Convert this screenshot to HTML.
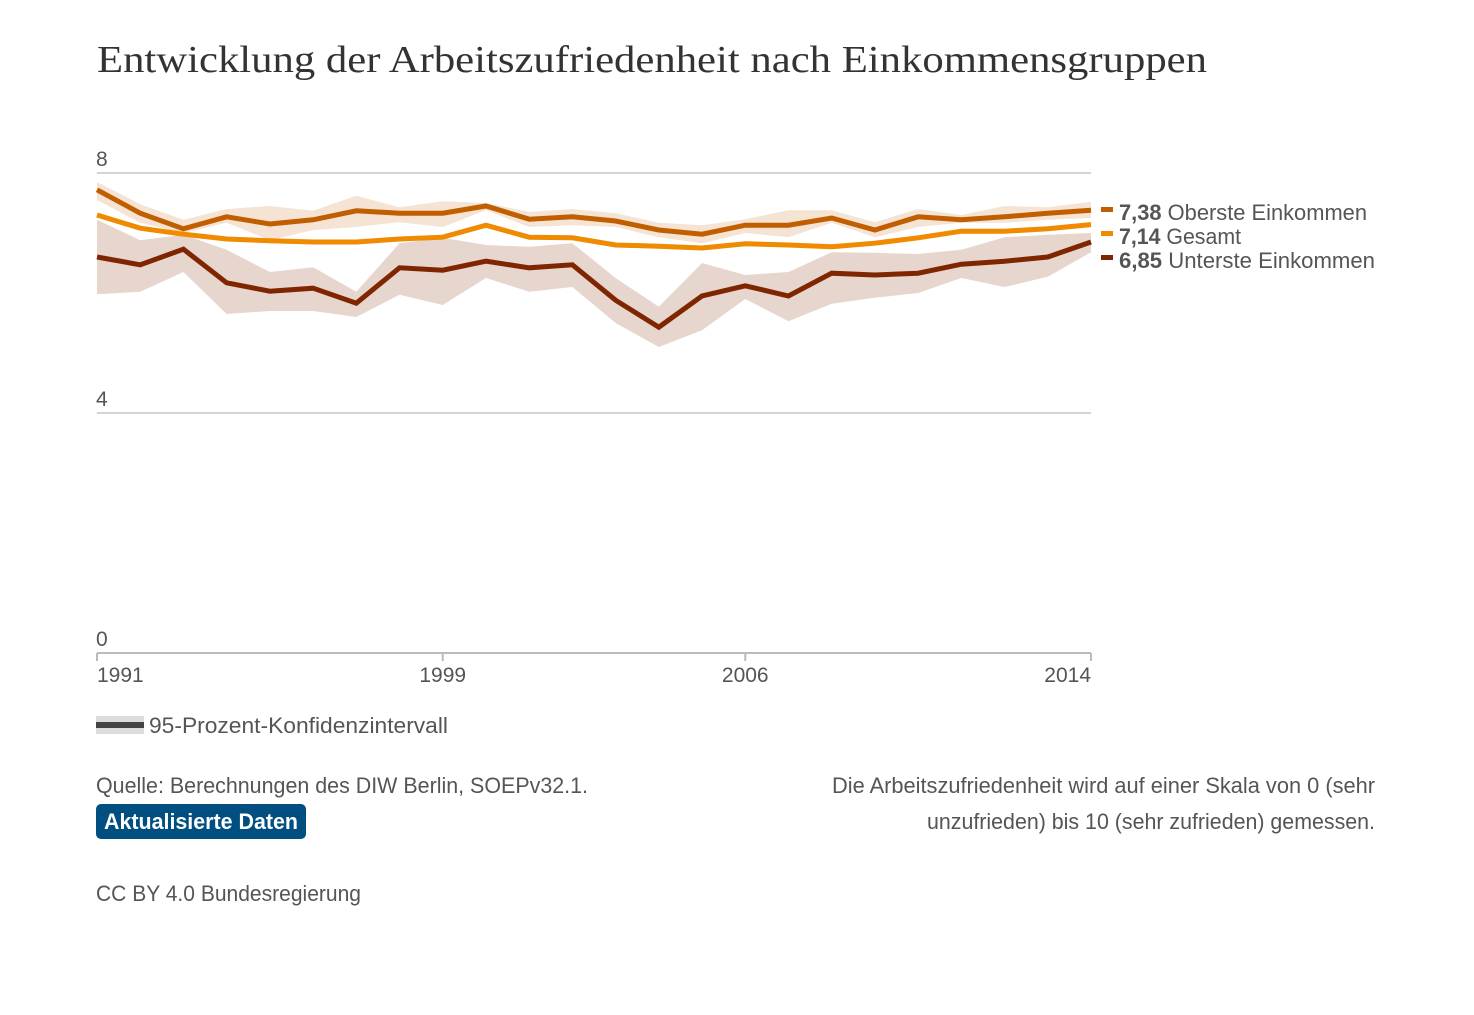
<!DOCTYPE html>
<html><head><meta charset="utf-8"><style>
html,body{margin:0;padding:0;background:#fff;}
svg{display:block;}
text{font-family:"Liberation Sans",sans-serif;fill:#555;}
</style></head><body>
<svg id="chart" width="1474" height="1015" viewBox="0 0 1474 1015">
<text x="97" y="72" style="font-family:'Liberation Serif',serif;font-size:38px;fill:#333" textLength="1110" lengthAdjust="spacingAndGlyphs">Entwicklung der Arbeitszufriedenheit nach Einkommensgruppen</text>
<g id="grid"></g>
<g id="bands"></g>
<g id="lines"></g>
<g id="xaxis"></g>
<g>
<rect x="1101" y="207" width="12" height="5" fill="#c05e00"/>
<text x="1119" y="220" font-size="22" textLength="248" lengthAdjust="spacingAndGlyphs"><tspan font-weight="bold">7,38</tspan> Oberste Einkommen</text>
<rect x="1101" y="231" width="12" height="5" fill="#f08a00"/>
<text x="1119" y="244" font-size="22" textLength="122" lengthAdjust="spacingAndGlyphs"><tspan font-weight="bold">7,14</tspan> Gesamt</text>
<rect x="1101" y="255" width="12" height="5" fill="#7f2600"/>
<text x="1119" y="268" font-size="22" textLength="256" lengthAdjust="spacingAndGlyphs"><tspan font-weight="bold">6,85</tspan> Unterste Einkommen</text>
</g>
<g>
<rect x="96" y="716" width="48" height="18" fill="#dcdcdc"/>
<rect x="96" y="722" width="48" height="6" fill="#444"/>
<text x="149" y="733" font-size="22" textLength="299" lengthAdjust="spacingAndGlyphs">95-Prozent-Konfidenzintervall</text>
</g>
<text x="96" y="793" font-size="22" textLength="492" lengthAdjust="spacingAndGlyphs">Quelle: Berechnungen des DIW Berlin, SOEPv32.1.</text>
<g>
<rect x="96" y="804" width="210" height="35" rx="5" fill="#004f80"/>
<text x="104" y="829" font-size="22" font-weight="bold" style="fill:#fff" textLength="194" lengthAdjust="spacingAndGlyphs">Aktualisierte Daten</text>
</g>
<text x="1375" y="793" font-size="22" text-anchor="end" textLength="543" lengthAdjust="spacingAndGlyphs">Die Arbeitszufriedenheit wird auf einer Skala von 0 (sehr</text>
<text x="1375" y="829" font-size="22" text-anchor="end" textLength="448" lengthAdjust="spacingAndGlyphs">unzufrieden) bis 10 (sehr zufrieden) gemessen.</text>
<text x="96" y="901" font-size="22" textLength="265" lengthAdjust="spacingAndGlyphs">CC BY 4.0 Bundesregierung</text>
</svg>
<script>
const years = [1991,1992,1993,1994,1995,1996,1997,1998,1999,2000,2001,2002,2003,2004,2005,2006,2007,2008,2009,2010,2011,2012,2013,2014];
const oberste = [7.72,7.33,7.07,7.27,7.15,7.22,7.37,7.33,7.33,7.45,7.23,7.27,7.20,7.05,6.98,7.13,7.13,7.25,7.05,7.27,7.22,7.27,7.33,7.38];
const obersteHi = [7.85,7.48,7.22,7.40,7.45,7.37,7.62,7.43,7.53,7.50,7.35,7.40,7.33,7.17,7.13,7.23,7.38,7.38,7.18,7.40,7.30,7.45,7.43,7.52];
const obersteLo = [7.55,7.17,7.00,7.17,6.88,7.05,7.10,7.18,7.10,7.38,7.10,7.13,7.10,6.93,6.83,7.00,6.93,7.17,6.93,7.10,7.17,7.17,7.22,7.25];
const gesamt = [7.30,7.08,6.98,6.90,6.87,6.85,6.85,6.90,6.93,7.13,6.93,6.92,6.80,6.78,6.75,6.82,6.80,6.77,6.83,6.92,7.03,7.03,7.07,7.14];
const gesamtHi = [7.34,7.12,7.02,6.94,6.91,6.89,6.89,6.94,6.97,7.17,6.97,6.96,6.84,6.82,6.79,6.86,6.84,6.81,6.87,6.96,7.07,7.07,7.11,7.18];
const gesamtLo = [7.26,7.04,6.94,6.86,6.83,6.81,6.81,6.86,6.89,7.09,6.89,6.88,6.76,6.74,6.71,6.78,6.76,6.73,6.79,6.88,6.99,6.99,7.03,7.10];
const unterste = [6.60,6.47,6.73,6.17,6.03,6.08,5.83,6.42,6.38,6.53,6.42,6.47,5.88,5.43,5.95,6.12,5.95,6.33,6.30,6.33,6.48,6.53,6.60,6.85];
const untersteHi = [7.22,6.88,6.97,6.72,6.35,6.43,6.02,6.83,6.92,6.80,6.77,6.83,6.25,5.77,6.50,6.30,6.35,6.68,6.67,6.65,6.72,6.93,6.97,7.00];
const untersteLo = [5.98,6.02,6.35,5.65,5.70,5.70,5.60,5.97,5.80,6.25,6.02,6.10,5.50,5.10,5.38,5.90,5.53,5.82,5.92,6.00,6.25,6.10,6.27,6.68];
const yTicks = [0,4,8];
const xTicks = [1991,1999,2006,2014];

const NS='http://www.w3.org/2000/svg';
const X0=97,X1=1091,Y0=653,Y1=173;
const x = yr => X0 + (yr-years[0])/(years[years.length-1]-years[0])*(X1-X0);
const y = v => Y0 - v/8*(Y0-Y1);
function mk(tag,attrs,parent){const e=document.createElementNS(NS,tag);for(const k in attrs)e.setAttribute(k,attrs[k]);parent.appendChild(e);return e;}
const grid=document.getElementById('grid');
yTicks.forEach(t=>{
  const l=mk('line',{x1:X0,x2:X1,y1:y(t),y2:y(t),stroke:t===0?'#bbb':'#d4d4d4','stroke-width':2},grid);
  
  
  const tx=mk('text',{x:96,y:y(t)-7,'font-size':21},grid);
  tx.textContent=t;
  
  
});
const xa=document.getElementById('xaxis');
xTicks.forEach((t,i)=>{
  const l=mk('line',{x1:x(t),x2:x(t),y1:Y0,y2:Y0+8,stroke:'#bbb','stroke-width':2},xa);
  
  
  const anchor=i===0?'start':(i===xTicks.length-1?'end':'middle');
  const tx=mk('text',{x:x(t),y:682,'font-size':21,'text-anchor':anchor},xa);
  tx.textContent=t;
  
  
});
const bands=document.getElementById('bands');
function band(hi,lo,fill,name){
  let d='M'+years.map((yr,i)=>x(yr)+','+y(hi[i])).join('L');
  d+='L'+years.slice().reverse().map((yr,j)=>{const i=years.length-1-j;return x(yr)+','+y(lo[i]);}).join('L')+'Z';
  const p=mk('path',{d:d,fill:fill},bands);
  
  
}
band(untersteHi,untersteLo,'rgba(180,130,105,0.33)','ci-band-unterste');
band(obersteHi,obersteLo,'rgba(225,170,120,0.33)','ci-band-oberste');
band(gesamtHi,gesamtLo,'rgba(245,175,90,0.3)','ci-band-gesamt');
const lines=document.getElementById('lines');
function line(vals,color,name){
  const p=mk('polyline',{points:years.map((yr,i)=>x(yr)+','+y(vals[i])).join(' '),fill:'none',stroke:color,'stroke-width':5,'stroke-linejoin':'miter'},lines);
  
  
}
line(unterste,'#7f2600','line-unterste');
line(gesamt,'#f08a00','line-gesamt');
line(oberste,'#c05e00','line-oberste');
</script>
</body></html>
